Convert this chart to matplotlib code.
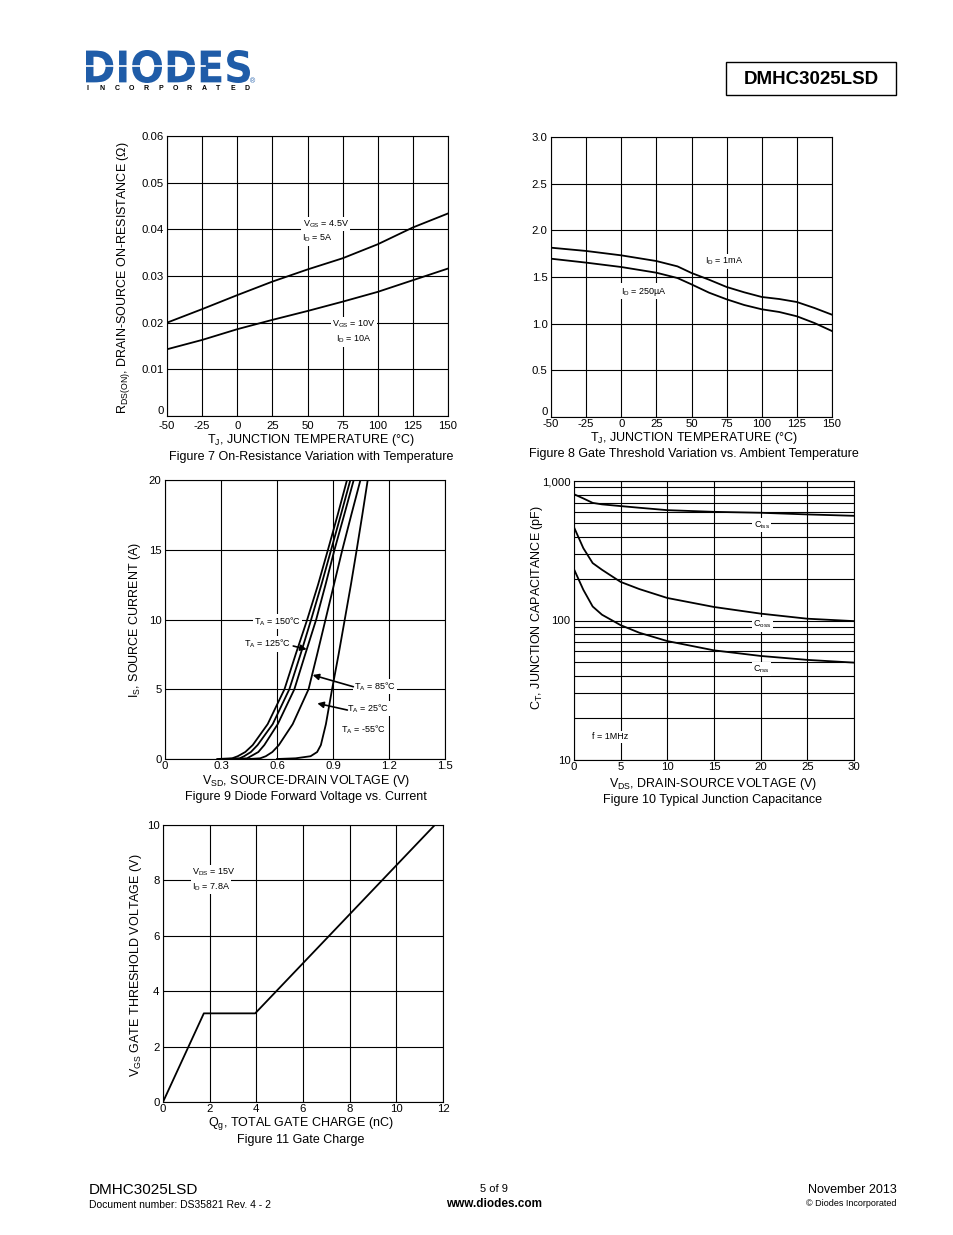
import numpy as np
import matplotlib
matplotlib.use('Agg')
import matplotlib.pyplot as plt
import matplotlib.transforms as mtransforms
from matplotlib.textpath import TextPath
from matplotlib.patches import PathPatch, Rectangle
from matplotlib.font_manager import FontProperties

plt.rcParams['font.family'] = ['Liberation Sans', 'DejaVu Sans']
plt.rcParams['mathtext.fontset'] = 'custom'
plt.rcParams['mathtext.rm'] = 'Liberation Sans'
plt.rcParams['axes.unicode_minus'] = False

# ---- data ----
# Figure 7 : on-resistance vs temperature
temp7 = [-50, -25, 0, 25, 50, 75, 100, 125, 150]
rds_45v = [0.0200, 0.0229, 0.0259, 0.0288, 0.0314, 0.0338, 0.0368, 0.0404, 0.0434]
rds_10v = [0.0143, 0.0163, 0.0186, 0.0206, 0.0225, 0.0245, 0.0266, 0.0291, 0.0316]

# Figure 8 : gate threshold vs temperature
temp8 = [-50, -25, 0, 25, 40, 50, 62.5, 75, 87.5, 100, 112.5, 125, 137.5, 150]
vth_1ma = [1.814, 1.779, 1.732, 1.671, 1.614, 1.543, 1.471, 1.393, 1.336, 1.286, 1.264, 1.232, 1.168, 1.096]
vth_250ua = [1.696, 1.654, 1.607, 1.546, 1.489, 1.421, 1.332, 1.261, 1.200, 1.154, 1.125, 1.079, 1.007, 0.921]

# Figure 9 : diode forward voltage vs current
is_a = [0, 0.05, 0.2, 0.5, 1, 2.5, 5, 7.5, 10, 12.5, 15, 17.5, 20]
vsd_150 = [0.28, 0.36, 0.39, 0.43, 0.47, 0.55, 0.64, 0.70, 0.762, 0.820, 0.873, 0.925, 0.975]
vsd_125 = [0.33, 0.40, 0.424, 0.46, 0.496, 0.577, 0.666, 0.726, 0.783, 0.838, 0.890, 0.942, 0.993]
vsd_85 = [0.38, 0.44, 0.46, 0.50, 0.532, 0.604, 0.693, 0.751, 0.810, 0.860, 0.908, 0.960, 1.011]
vsd_25 = [0.45, 0.51, 0.54, 0.575, 0.61, 0.684, 0.769, 0.815, 0.860, 0.905, 0.950, 0.998, 1.047]
vsd_m55 = [0.60, 0.70, 0.78, 0.815, 0.835, 0.862, 0.895, 0.930, 0.963, 0.996, 1.027, 1.057, 1.086]

# Figure 10 : junction capacitance
vds10 = [0, 1, 2, 3, 5, 7, 10, 15, 20, 25, 30]
ciss = [804, 750, 697, 680, 661, 643, 618, 601, 592, 576, 563]
coss = [466, 330, 258, 231, 189, 168, 145, 125, 112, 103, 99]
crss = [233, 166, 126, 110, 92.6, 81.7, 71.2, 61.1, 55.7, 52.2, 49.9]

# Figure 11 : gate charge
qg = [0, 1.75, 3.95, 11.65]
vgs = [0, 3.2, 3.2, 10.0]

W, H = 954, 1235
fig = plt.figure(figsize=(W / 100, H / 100), dpi=100)
fig.patch.set_facecolor('white')

deco = fig.add_axes([0, 0, 1, 1])
deco.set_xlim(0, W)
deco.set_ylim(H, 0)
deco.axis('off')


def ftext(x, y, s, **kw):
    fig.text(x / W, 1 - y / H, s, **kw)


def add_ax(x0, y0, x1, y1):
    ax = fig.add_axes([x0 / W, 1 - y1 / H, (x1 - x0) / W, (y1 - y0) / H])
    ax.tick_params(which='both', length=0, labelsize=8.2, pad=2.5)
    for s in ax.spines.values():
        s.set_linewidth(0.8)
    ax.grid(True, which='both', color='black', lw=0.8)
    ax.set_axisbelow(True)
    return ax


def lift_zero(ax):
    # the "0" on the y axis sits a little above the corner
    ax.get_yticklabels()[0].set_va('bottom')


box = dict(fc='white', ec='none', pad=1)
lab = dict(fontsize=6.5, ha='center', va='center', bbox=box)
FS = 9

# ---- header ----
tp = TextPath((0, 0), 'DIODES', size=1, prop=FontProperties(family='DejaVu Sans', weight='bold'))
bb = tp.get_extents()
tr = mtransforms.Affine2D().translate(-bb.x0, -bb.y0).scale(164 / bb.width, -33 / bb.height).translate(86, 83)
deco.add_patch(PathPatch(tr.transform_path(tp), fc='#1f5ca8', ec='none'))
deco.plot([86, 205], [66, 66], color='white', lw=1.2)
for k, ch in enumerate('INCORPORATED'):
    deco.text(88 + k * 14.5, 89, ch, fontsize=5, fontweight='bold', ha='center', va='center')
deco.text(253, 82, '®', fontsize=5, color='#1f5ca8', ha='center', va='center')
deco.add_patch(Rectangle((726, 62), 170, 33, fill=False, ec='black', lw=1.0))
deco.text(811, 79, 'DMHC3025LSD', fontsize=13.5, fontweight='bold', ha='center', va='center')

# ---- Figure 7 ----
ax7 = add_ax(167, 136, 448, 416)
ax7.plot(temp7, rds_45v, color='black', lw=1.3)
ax7.plot(temp7, rds_10v, color='black', lw=1.3)
ax7.set_xlim(-50, 150)
ax7.set_ylim(0, 0.06)
ax7.set_xticks(np.arange(-50, 151, 25))
ax7.set_yticks([0, 0.01, 0.02, 0.03, 0.04, 0.05, 0.06])
ax7.set_yticklabels(['0', '0.01', '0.02', '0.03', '0.04', '0.05', '0.06'])
ax7.tick_params(axis='x', pad=3.5)
lift_zero(ax7)
ax7.text(63, 0.0411, r'V$_\mathregular{GS}$ = 4.5V', **lab)
ax7.text(57, 0.0381, r'I$_\mathregular{D}$ = 5A', **lab)
ax7.text(83, 0.0197, r'V$_\mathregular{GS}$ = 10V', **lab)
ax7.text(83, 0.0165, r'I$_\mathregular{D}$ = 10A', **lab)
ftext(124, 278, r'R$_\mathregular{DS(ON)}$, DRAIN-SOURCE ON-RESISTANCE ($\Omega$)', rotation=90,
      ha='center', va='center', fontsize=FS)
ftext(311, 440, r'T$_\mathregular{J}$, JUNCTION TEMPERATURE ($\degree$C)', ha='center', va='center', fontsize=FS)
ftext(311, 457, 'Figure 7 On-Resistance Variation with Temperature', ha='center', va='center', fontsize=FS)

# ---- Figure 8 ----
ax8 = add_ax(551, 137, 832, 417)
ax8.plot(temp8, vth_1ma, color='black', lw=1.3)
ax8.plot(temp8, vth_250ua, color='black', lw=1.3)
ax8.set_xlim(-50, 150)
ax8.set_ylim(0, 3)
ax8.set_xticks(np.arange(-50, 151, 25))
ax8.set_yticks(np.arange(0, 3.01, 0.5))
ax8.set_yticklabels(['0', '0.5', '1.0', '1.5', '2.0', '2.5', '3.0'])
ax8.tick_params(axis='x', pad=1.5)
lift_zero(ax8)
ax8.text(73, 1.669, r'I$_\mathregular{D}$ = 1mA', **lab)
ax8.text(16, 1.347, r'I$_\mathregular{D}$ = 250µA', **lab)
ftext(694, 438, r'T$_\mathregular{J}$, JUNCTION TEMPERATURE ($\degree$C)', ha='center', va='center', fontsize=FS)
ftext(694, 454, 'Figure 8 Gate Threshold Variation vs. Ambient Temperature', ha='center', va='center', fontsize=FS)

# ---- Figure 9 ----
ax9 = add_ax(165, 480, 445, 759)
for v in [vsd_150, vsd_125, vsd_85, vsd_25, vsd_m55]:
    ax9.plot(v, is_a, color='black', lw=1.3)
ax9.set_xlim(0, 1.5)
ax9.set_ylim(0, 20)
ax9.set_xticks([0, 0.3, 0.6, 0.9, 1.2, 1.5])
ax9.set_xticklabels(['0', '0.3', '0.6', '0.9', '1.2', '1.5'])
ax9.set_yticks([0, 5, 10, 15, 20])
ax9.tick_params(axis='x', pad=1.5)
ax9.text(0.603, 9.84, r'T$_\mathregular{A}$ = 150°C', **lab)
ax9.text(0.551, 8.24, r'T$_\mathregular{A}$ = 125°C', **lab)
ax9.text(1.012, 5.18, r'T$_\mathregular{A}$ = 85°C', fontsize=6.5, ha='left', va='center', bbox=box)
ax9.text(0.977, 3.63, r'T$_\mathregular{A}$ = 25°C', fontsize=6.5, ha='left', va='center', bbox=box)
ax9.text(0.941, 2.13, r'T$_\mathregular{A}$ = -55°C', fontsize=6.5, ha='left', va='center', bbox=box)
arr = dict(arrowstyle='-|>', color='black', lw=1.2, mutation_scale=9, shrinkA=0, shrinkB=0)
ax9.annotate('', xy=(0.759, 7.86), xytext=(0.687, 8.1), arrowprops=arr)
ax9.annotate('', xy=(0.791, 6.02), xytext=(1.009, 5.18), arrowprops=arr)
ax9.annotate('', xy=(0.816, 3.99), xytext=(0.977, 3.51), arrowprops=arr)
ftext(135, 620, r'I$_\mathregular{S}$, SOURCE CURRENT (A)', rotation=90, ha='center', va='center', fontsize=FS)
ftext(306, 781, r'V$_\mathregular{SD}$, SOURCE-DRAIN VOLTAGE (V)', ha='center', va='center', fontsize=FS)
ftext(306, 797, 'Figure 9 Diode Forward Voltage vs. Current', ha='center', va='center', fontsize=FS)

# ---- Figure 10 ----
ax10 = add_ax(574, 481, 854, 760)
ax10.set_yscale('log')
ax10.plot(vds10, ciss, color='black', lw=1.3)
ax10.plot(vds10, coss, color='black', lw=1.3)
ax10.plot(vds10, crss, color='black', lw=1.3)
ax10.set_xlim(0, 30)
ax10.set_ylim(10, 1000)
ax10.set_xticks(np.arange(0, 31, 5))
ax10.set_yticks([10, 100, 1000])
ax10.set_yticklabels(['10', '100', '1,000'])
ax10.set_yticks(list(range(20, 100, 10)) + list(range(200, 1000, 100)), minor=True)
ax10.yaxis.set_minor_formatter(matplotlib.ticker.NullFormatter())
ax10.tick_params(axis='x', pad=1.5)
ax10.text(20.1, 483, r'C$_\mathregular{iss}$', **lab)
ax10.text(20.2, 93.6, r'C$_\mathregular{oss}$', **lab)
ax10.text(20.1, 44.7, r'C$_\mathregular{rss}$', **lab)
ax10.text(3.86, 14.7, 'f = 1MHz', **lab)
ftext(537, 608, r'C$_\mathregular{T}$, JUNCTION CAPACITANCE (pF)', rotation=90, ha='center', va='center', fontsize=FS)
ftext(713, 784, r'V$_\mathregular{DS}$, DRAIN-SOURCE VOLTAGE (V)', ha='center', va='center', fontsize=FS)
ftext(713, 800, 'Figure 10 Typical Junction Capacitance', ha='center', va='center', fontsize=FS)

# ---- Figure 11 ----
ax11 = add_ax(163, 825, 443, 1102)
ax11.plot(qg, vgs, color='black', lw=1.3)
ax11.set_xlim(0, 12)
ax11.set_ylim(0, 10)
ax11.set_xticks(np.arange(0, 13, 2))
ax11.set_yticks(np.arange(0, 11, 2))
ax11.tick_params(axis='x', pad=1.5)
ax11.text(1.24, 8.29, r'V$_\mathregular{DS}$ = 15V', fontsize=6.5, ha='left', va='center', bbox=box)
ax11.text(1.24, 7.77, r'I$_\mathregular{D}$ = 7.8A', fontsize=6.5, ha='left', va='center', bbox=box)
ftext(136, 965, r'V$_\mathregular{GS}$ GATE THRESHOLD VOLTAGE (V)', rotation=90, ha='center', va='center', fontsize=FS)
ftext(301, 1124, r'Q$_\mathregular{g}$, TOTAL GATE CHARGE (nC)', ha='center', va='center', fontsize=FS)
ftext(301, 1140, 'Figure 11 Gate Charge', ha='center', va='center', fontsize=FS)

# ---- footer ----
ftext(89, 1190, 'DMHC3025LSD', ha='left', va='center', fontsize=11)
ftext(89, 1205, 'Document number: DS35821 Rev. 4 - 2', ha='left', va='center', fontsize=7.5)
ftext(494, 1189, '5 of 9', ha='center', va='center', fontsize=8)
ftext(494, 1204, 'www.diodes.com', ha='center', va='center', fontsize=8.5, fontweight='bold')
ftext(897, 1190, 'November 2013', ha='right', va='center', fontsize=9)
ftext(897, 1204, '© Diodes Incorporated', ha='right', va='center', fontsize=6.5)

fig.savefig('out.png', dpi=100)
